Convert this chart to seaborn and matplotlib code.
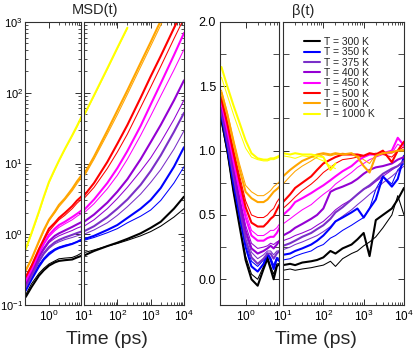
import numpy as np
import pandas as pd
import matplotlib
matplotlib.use("Agg")
import matplotlib.pyplot as plt
from matplotlib.ticker import FixedLocator, FixedFormatter, NullFormatter
import seaborn as sns

sns.set_theme(style="white")
plt.rcParams['font.family'] = ['Liberation Sans', 'DejaVu Sans']
plt.rcParams['mathtext.fontset'] = 'custom'
plt.rcParams['mathtext.rm'] = 'Liberation Sans'
plt.rcParams['mathtext.it'] = 'Liberation Sans:italic'
plt.rcParams['mathtext.bf'] = 'Liberation Sans:bold'

NaN = np.nan

# ---------------- data ----------------
temps = ["T = 300 K", "T = 350 K", "T = 375 K", "T = 400 K",
         "T = 450 K", "T = 500 K", "T = 600 K", "T = 1000 K"]
colors = ["#000000", "#0000ff", "#7a30c8", "#9400d3",
          "#ff00ff", "#ff0000", "#ffa500", "#ffff00"]

# MSD(t)
t_msd = [0.2, 0.3, 0.5, 0.7, 1.0, 1.5, 2, 3, 5, 7, 10, 20, 50, 100, 200, 500, 1000, 2000, 5000, 10000]

msd_300 = [0.13, 0.18, 0.26, 0.31, 0.36, 0.40, 0.42, 0.43, 0.44, 0.47, 0.50, 0.58, 0.68, 0.76, 0.86, 1.03, 1.23, 1.5, 2.3, 3.4]
msd_300_thin = [0.14, 0.20, 0.28, 0.33, 0.38, 0.42, 0.45, 0.46, 0.47, 0.50, 0.55, 0.60, 0.68, 0.74, 0.82, 0.95, 1.09, 1.3, 1.75, 2.3]
msd_350 = [0.16, 0.23, 0.35, 0.44, 0.52, 0.60, 0.64, 0.68, 0.73, 0.78, 0.85, 0.95, 1.15, 1.35, 1.7, 2.3, 3.05, 4.5, 9, 17]
msd_350_thin = [0.17, 0.24, 0.37, 0.46, 0.55, 0.62, 0.66, 0.70, 0.74, 0.78, 0.82, 0.90, 1.05, 1.2, 1.45, 1.8, 2.2, 3.0, 5.3, 9]
msd_375 = [0.18, 0.26, 0.42, 0.54, 0.66, 0.77, 0.83, 0.90, 0.98, 1.04, 1.1, 1.3, 1.75, 2.3, 3.1, 5.0, 7.8, 13, 28, 52]
msd_375_thin = [0.18, 0.25, 0.40, 0.52, 0.63, 0.73, 0.78, 0.84, 0.90, 0.95, 1.0, 1.15, 1.45, 1.85, 2.45, 3.7, 5.4, 8.2, 16, 29]
msd_400 = [0.20, 0.29, 0.48, 0.63, 0.80, 0.95, 1.03, 1.13, 1.27, 1.38, 1.5, 1.9, 2.8, 4.0, 6.0, 11.5, 20, 35, 78, 150]
msd_400_thin = [0.19, 0.28, 0.46, 0.60, 0.76, 0.88, 0.95, 1.03, 1.13, 1.22, 1.3, 1.6, 2.3, 3.2, 4.6, 7.8, 12, 20, 42, 79]
msd_450 = [0.22, 0.32, 0.55, 0.75, 0.98, 1.2, 1.35, 1.5, 1.75, 1.95, 2.2, 3.1, 5.3, 8.6, 15, 34, 68, 135, 340, 700]
msd_450_thin = [0.21, 0.31, 0.52, 0.71, 0.92, 1.12, 1.25, 1.4, 1.6, 1.8, 2.0, 2.7, 4.4, 6.8, 11.5, 25, 47, 90, 210, 410]
msd_500 = [0.25, 0.36, 0.62, 0.85, 1.2, 1.45, 1.7, 2.0, 2.5, 3.0, 3.5, 5.3, 10.5, 19, 35, 85, 170, 330, 820, 1600]
msd_500_thin = [0.24, 0.35, 0.60, 0.82, 1.1, 1.38, 1.6, 1.85, 2.3, 2.75, 3.2, 4.6, 8.5, 14.5, 26, 62, 120, 235, 580, 1130]
msd_600 = [0.31, 0.45, 0.80, 1.15, 1.6, 2.1, 2.6, 3.2, 4.4, 5.6, 7.0, 12.5, 29, 56, 108, 265, 520, 1040, 2600, 5200]
msd_600_thin = [0.30, 0.44, 0.77, 1.1, 1.55, 2.0, 2.45, 3.05, 4.1, 5.2, 6.5, 11.5, 26, 49, 95, 232, 455, 900, 2250, 4500]
msd_1000 = [0.62, 1.05, 2.1, 3.4, 5.5, 8.3, 11, 16, 25, 34, 48, 92, 220, 430, 830, NaN, NaN, NaN, NaN, NaN]
msd_1000_thin = [0.60, 1.0, 2.0, 3.3, 5.3, 8.1, 10.8, 15.7, 24.5, 33, 47, 90, 215, 420, 810, NaN, NaN, NaN, NaN, NaN]

# beta(t)
t_beta = [0.25, 0.35, 0.5, 0.7, 1.0, 1.4, 2.0, 2.8, 3.5, 4.2, 5.0, 6.0, 7.0,
          10, 15, 20, 30, 50, 70, 100, 150, 200, 300, 500, 700, 1000, 1400, 2000, 3000, 5000, 7000, 10000]

beta_300 = [1.24, 1.0, 0.68, 0.42, 0.15, 0.0, -0.05, 0.08, 0.16, 0.08, 0.0, 0.1, 0.12,
            0.11, 0.12, 0.11, 0.13, 0.14, 0.15, 0.17, 0.22, 0.20, 0.24, 0.27, 0.31, 0.36, 0.18, 0.46, 0.50, 0.55, 0.62, 0.71]
beta_300_thin = [1.22, 0.98, 0.68, 0.44, 0.18, 0.04, 0.0, 0.1, 0.18, 0.1, 0.04, 0.12, 0.12,
                 0.07, 0.08, 0.07, 0.08, 0.09, 0.10, 0.11, 0.14, 0.10, 0.16, 0.20, 0.22, 0.26, 0.29, 0.33, 0.40, 0.50, 0.65, 0.50]
beta_350 = [1.27, 1.03, 0.74, 0.5, 0.25, 0.1, 0.06, 0.12, 0.2, 0.15, 0.08, 0.16, 0.14,
            0.19, 0.20, 0.22, 0.24, 0.27, 0.30, 0.34, 0.40, 0.45, 0.48, 0.52, 0.55, 0.48, 0.55, 0.62, 0.80, 0.72, 0.78, 0.96]
beta_350_thin = [1.28, 1.05, 0.77, 0.53, 0.29, 0.14, 0.1, 0.15, 0.2, 0.17, 0.11, 0.17, 0.16,
                 0.15, 0.16, 0.18, 0.20, 0.22, 0.25, 0.27, 0.32, 0.34, 0.38, 0.42, 0.45, 0.48, 0.55, 0.70, 0.80, 0.74, 0.85, 0.90]
beta_375 = [1.3, 1.07, 0.8, 0.56, 0.31, 0.17, 0.12, 0.16, 0.2, 0.2, 0.16, 0.2, 0.22,
            0.26, 0.28, 0.30, 0.33, 0.36, 0.39, 0.42, 0.47, 0.52, 0.56, 0.62, 0.66, 0.70, 0.73, 0.77, 0.82, 0.86, 0.88, 0.92]
beta_375_thin = [1.31, 1.09, 0.82, 0.59, 0.35, 0.21, 0.16, 0.19, 0.22, 0.22, 0.19, 0.22, 0.22,
                 0.23, 0.25, 0.27, 0.29, 0.32, 0.34, 0.37, 0.41, 0.45, 0.49, 0.54, 0.58, 0.62, 0.66, 0.70, 0.75, 0.80, 0.84, 0.88]
beta_400 = [1.33, 1.11, 0.85, 0.62, 0.38, 0.24, 0.2, 0.22, 0.24, 0.26, 0.24, 0.27, 0.3,
            0.34, 0.37, 0.40, 0.43, 0.47, 0.50, 0.55, 0.68, 0.70, 0.72, 0.75, 0.78, 0.82, 0.85, 0.87, 0.88, 0.90, 0.93, 0.95]
beta_400_thin = [1.34, 1.13, 0.88, 0.65, 0.42, 0.28, 0.24, 0.25, 0.26, 0.28, 0.27, 0.29, 0.3,
                 0.30, 0.32, 0.34, 0.36, 0.39, 0.42, 0.45, 0.50, 0.54, 0.58, 0.62, 0.66, 0.70, 0.72, 0.76, 0.80, 0.85, 0.88, 0.92]
beta_450 = [1.37, 1.16, 0.92, 0.7, 0.48, 0.34, 0.3, 0.3, 0.32, 0.33, 0.33, 0.36, 0.4,
            0.50, 0.55, 0.60, 0.63, 0.67, 0.70, 0.73, 0.77, 0.80, 0.84, 0.88, 0.92, 0.95, 0.97, 0.97, 0.98, 1.00, 1.10, 1.04]
beta_450_thin = [1.38, 1.18, 0.95, 0.73, 0.52, 0.38, 0.34, 0.34, 0.36, 0.38, 0.38, 0.4, 0.43,
                 0.43, 0.47, 0.50, 0.54, 0.58, 0.62, 0.66, 0.70, 0.74, 0.78, 0.83, 0.87, 0.90, 0.93, 0.95, 0.97, 0.98, 1.05, 1.02]
beta_500 = [1.4, 1.21, 0.98, 0.77, 0.56, 0.44, 0.41, 0.41, 0.44, 0.47, 0.49, 0.54, 0.58,
            0.60, 0.66, 0.71, 0.75, 0.80, 0.85, 0.90, 0.93, 0.95, 0.97, 0.97, 0.97, 0.96, 0.98, 0.97, 1.00, 0.91, 1.00, 1.07]
beta_500_thin = [1.42, 1.23, 1.01, 0.81, 0.61, 0.5, 0.48, 0.48, 0.5, 0.53, 0.55, 0.6, 0.63,
                 0.55, 0.60, 0.64, 0.69, 0.74, 0.78, 0.83, 0.87, 0.90, 0.93, 0.94, 0.95, 0.96, 0.97, 0.98, 0.97, 0.95, 1.00, 1.03]
beta_600 = [1.45, 1.28, 1.06, 0.86, 0.68, 0.63, 0.6, 0.6, 0.62, 0.65, 0.68, 0.7, 0.72,
            0.80, 0.85, 0.88, 0.92, 0.95, 0.97, 0.98, 0.97, 0.98, 0.97, 0.98, 0.95, 0.88, 0.83, 0.96, 0.98, 0.99, 1.00, 1.00]
beta_600_thin = [1.47, 1.3, 1.09, 0.9, 0.73, 0.68, 0.65, 0.65, 0.67, 0.69, 0.72, 0.74, 0.76,
                 0.74, 0.80, 0.84, 0.88, 0.92, 0.95, 0.97, 0.96, 0.97, 0.98, 0.97, 0.96, 0.93, 0.90, 0.97, 0.99, 0.98, 1.00, 1.01]
beta_1000 = [1.65, 1.5, 1.35, 1.22, 1.08, 0.98, 0.94, 0.93, 0.93, 0.94, 0.94, 0.95, 0.96,
             0.98, 0.97, 0.98, 0.97, 0.97, 0.96, 0.95, 0.85, 0.90, NaN, NaN, NaN, NaN, NaN, NaN, NaN, NaN, NaN, NaN]
beta_1000_thin = [1.57, 1.43, 1.28, 1.15, 1.02, 0.95, 0.93, 0.92, 0.92, 0.93, 0.93, 0.94, 0.95,
                  0.96, 0.95, 0.94, 0.96, 0.95, 0.94, 0.92, 0.88, 0.86, NaN, NaN, NaN, NaN, NaN, NaN, NaN, NaN, NaN, NaN]

msd_thick = [msd_300, msd_350, msd_375, msd_400, msd_450, msd_500, msd_600, msd_1000]
msd_thin = [msd_300_thin, msd_350_thin, msd_375_thin, msd_400_thin,
            msd_450_thin, msd_500_thin, msd_600_thin, msd_1000_thin]
beta_thick = [beta_300, beta_350, beta_375, beta_400, beta_450, beta_500, beta_600, beta_1000]
beta_thin = [beta_300_thin, beta_350_thin, beta_375_thin, beta_400_thin,
             beta_450_thin, beta_500_thin, beta_600_thin, beta_1000_thin]

# ---------------- figure ----------------
W, H = 415, 350
fig = plt.figure(figsize=(W / 100, H / 100), dpi=100)

def px_axes(x0, x1, y0, y1):
    return fig.add_axes([x0 / W, 1 - y1 / H, (x1 - x0) / W, (y1 - y0) / H])

ax_ml = px_axes(25, 81, 22, 305)
ax_mr = px_axes(84, 184, 22, 305)
ax_bl = px_axes(220, 279, 22, 305)
ax_br = px_axes(283, 404, 22, 305)

LW_THICK, LW_THIN = 1.5, 0.75

def draw(ax, t, thick, thin):
    for i in range(len(temps)):
        sns.lineplot(x=t, y=thin[i], ax=ax, color=colors[i], linewidth=LW_THIN,
                     estimator=None, sort=False, legend=False)
    for i in range(len(temps)):
        sns.lineplot(x=t, y=thick[i], ax=ax, color=colors[i], linewidth=LW_THICK,
                     estimator=None, sort=False, legend=False, label=temps[i])

for ax in (ax_ml, ax_mr):
    draw(ax, t_msd, msd_thick, msd_thin)
for ax in (ax_bl, ax_br):
    draw(ax, t_beta, beta_thick, beta_thin)

minor_dec = lambda decs: [m * 10.0 ** d for d in decs for m in range(2, 10)]

for ax in (ax_ml, ax_mr, ax_bl, ax_br):
    ax.set_xscale('log')
    for s in ax.spines.values():
        s.set_color('#303030')
        s.set_linewidth(0.8)
    ax.tick_params(which='both', direction='in', top=True, right=True,
                   bottom=True, left=True, colors='#303030', labelcolor='black',
                   labelsize=8.5, pad=3)
    ax.tick_params(which='major', length=4.5, width=0.7)
    ax.tick_params(which='minor', length=2.5, width=0.6)
    ax.set_xlabel('')
    ax.set_ylabel('')

# x axes
ax_ml.set_xlim(0.19, 9.2)
ax_bl.set_xlim(0.23, 6.8)
for ax in (ax_ml, ax_bl):
    ax.xaxis.set_major_locator(FixedLocator([1]))
    ax.xaxis.set_major_formatter(FixedFormatter([r'$10^{0}$']))
    ax.xaxis.set_minor_locator(FixedLocator(list(range(2, 10))))
    ax.xaxis.set_minor_formatter(NullFormatter())
for ax in (ax_mr, ax_br):
    ax.set_xlim(10, 1e4)
    ax.xaxis.set_major_locator(FixedLocator([10, 100, 1000, 10000]))
    ax.xaxis.set_major_formatter(FixedFormatter([r'$10^{1}$', r'$10^{2}$', r'$10^{3}$', r'$10^{4}$']))
    ax.xaxis.set_minor_locator(FixedLocator(minor_dec([1, 2, 3])))
    ax.xaxis.set_minor_formatter(NullFormatter())

# y axes MSD
for ax in (ax_ml, ax_mr):
    ax.set_yscale('log')
    ax.set_ylim(0.1, 1000)
    ax.yaxis.set_major_locator(FixedLocator([0.1, 1, 10, 100, 1000]))
    ax.yaxis.set_major_formatter(FixedFormatter([r'$10^{-1}$', r'$10^{0}$', r'$10^{1}$', r'$10^{2}$', r'$10^{3}$']))
    ax.yaxis.set_minor_locator(FixedLocator(minor_dec([-1, 0, 1, 2])))
    ax.yaxis.set_minor_formatter(NullFormatter())
ax_ml.tick_params(axis='y', which='major', pad=1.5, labelsize=8)
ax_mr.tick_params(axis='y', which='both', labelleft=False)

# y axes beta
for ax in (ax_bl, ax_br):
    ax.set_ylim(-0.2, 2.0)
    ax.yaxis.set_major_locator(FixedLocator([0.0, 0.5, 1.0, 1.5, 2.0]))
    ax.yaxis.set_major_formatter(FixedFormatter(['0.0', '0.5', '1.0', '1.5', '2.0']))
    ax.yaxis.set_minor_locator(FixedLocator([0.25, 0.75, 1.25, 1.75]))
    ax.tick_params(axis='y', which='minor', length=4)
ax_bl.tick_params(axis='y', which='major', labelsize=9)
ax_br.tick_params(axis='y', which='both', labelleft=False)

# legend
handles, labels = ax_br.get_legend_handles_labels()
leg = fig.legend(handles, labels, loc='upper left',
                 bbox_to_anchor=(304 / W, 1 - 37 / H), frameon=False,
                 fontsize=7.5, handlelength=1.5, handletextpad=0.45,
                 labelspacing=0.03, borderpad=0, borderaxespad=0)

# titles and axis labels
fig.text(95 / W, 1 - 10 / H, 'MSD(t)', ha='center', va='center', fontsize=10.5)
fig.text(303 / W, 1 - 11 / H, 'β(t)', ha='center', va='center', fontsize=10.5)
fig.text(107 / W, 1 - 339 / H, 'Time (ps)', ha='center', va='center', fontsize=14)
fig.text(316 / W, 1 - 339 / H, 'Time (ps)', ha='center', va='center', fontsize=14)

fig.savefig('out.png', dpi=100)
